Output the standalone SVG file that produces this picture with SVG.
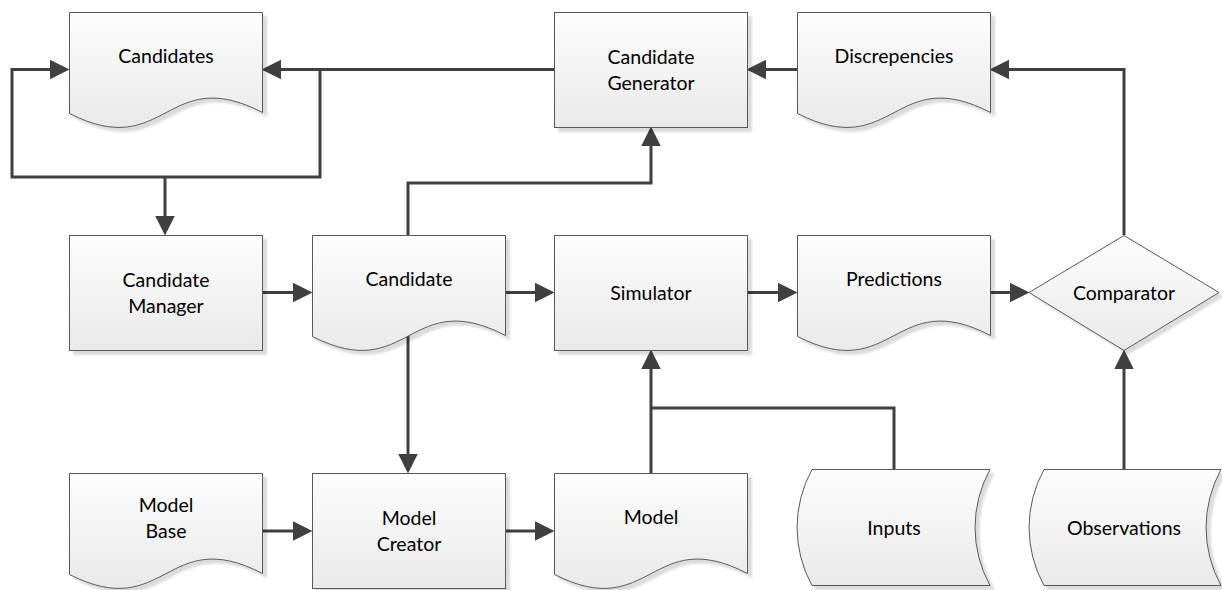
<svg xmlns="http://www.w3.org/2000/svg" width="1222" height="590" viewBox="0 0 1222 590">
  <defs>
    <linearGradient id="fillGrad" x1="0" y1="0" x2="0" y2="1">
      <stop offset="0" stop-color="#fdfdfd"/>
      <stop offset="1" stop-color="#e9e9e9"/>
    </linearGradient>
    <filter id="shadow" x="-10%" y="-10%" width="130%" height="130%">
      <feGaussianBlur in="SourceAlpha" stdDeviation="1"/>
      <feOffset dx="4" dy="4" result="off"/>
      <feFlood flood-color="#000" flood-opacity="0.14"/>
      <feComposite in2="off" operator="in"/>
      <feMerge>
        <feMergeNode/>
        <feMergeNode in="SourceGraphic"/>
      </feMerge>
    </filter>
    <marker id="arrow" markerUnits="userSpaceOnUse" markerWidth="20" markerHeight="20" viewBox="0 0 19 19" refX="9" refY="9.5" orient="auto">
      <path d="M0,0 L19,9.5 L0,19 Z" fill="#404040"/>
    </marker>
    <style>
      .shape { fill: url(#fillGrad); stroke: #595959; stroke-width: 1; filter: url(#shadow); }
      .label { font-family: "Lato", "Open Sans", sans-serif; font-size: 19.5px; fill: #000; text-anchor: middle; }
      .wire { fill: none; stroke: #404040; stroke-width: 3; stroke-linejoin: miter; }
      .wire.arrowed { marker-end: url(#arrow); }
    </style>
  </defs>

  <!-- connectors -->
  <g id="connectors">
    <path class="wire arrowed" d="M554,69.5 H272"/>
    <path class="wire arrowed" d="M320,69.5 V177 H12 V69.5 H59"/>
    <path class="wire arrowed" d="M165,177 V225"/>
    <path class="wire arrowed" d="M262,292.5 H302"/>
    <path class="wire arrowed" d="M408,235 V183 H651 V137"/>
    <path class="wire arrowed" d="M505,292.5 H544"/>
    <path class="wire arrowed" d="M747,292.5 H787"/>
    <path class="wire arrowed" d="M990,292.5 H1019"/>
    <path class="wire arrowed" d="M1124,235 V69.5 H1000"/>
    <path class="wire arrowed" d="M798,69.5 H757"/>
    <path class="wire arrowed" d="M408,336 V463"/>
    <path class="wire arrowed" d="M262,531 H302"/>
    <path class="wire arrowed" d="M505,531 H544"/>
    <path class="wire arrowed" d="M651,473 V360"/>
    <path class="wire" d="M894,469 V408 H651"/>
    <path class="wire arrowed" d="M1124,469 V360"/>
  </g>

  <!-- row 1 -->
  <g id="candidates">
    <path class="shape" d="M69.5,12.5 H262.5 V112.5 C166,62.5 166,162.5 69.5,113.5 Z"/>
    <text class="label" x="166" y="63">Candidates</text>
  </g>
  <g id="candidate-generator">
    <rect class="shape" x="554.5" y="12.5" width="193" height="115"/>
    <text class="label" x="651" y="64">Candidate</text>
    <text class="label" x="651" y="89.5">Generator</text>
  </g>
  <g id="discrepencies">
    <path class="shape" d="M797.5,12.5 H990.5 V112.5 C894,62.5 894,162.5 797.5,113.5 Z"/>
    <text class="label" x="894" y="63">Discrepencies</text>
  </g>

  <!-- row 2 -->
  <g id="candidate-manager">
    <rect class="shape" x="69.5" y="235.5" width="193" height="115"/>
    <text class="label" x="166" y="287">Candidate</text>
    <text class="label" x="166" y="312.5">Manager</text>
  </g>
  <g id="candidate">
    <path class="shape" d="M312.5,235.5 H505.5 V335.5 C409,285.5 409,385.5 312.5,336.5 Z"/>
    <text class="label" x="409" y="286">Candidate</text>
  </g>
  <g id="simulator">
    <rect class="shape" x="554.5" y="235.5" width="193" height="115"/>
    <text class="label" x="651" y="299.5">Simulator</text>
  </g>
  <g id="predictions">
    <path class="shape" d="M797.5,235.5 H990.5 V335.5 C894,285.5 894,385.5 797.5,336.5 Z"/>
    <text class="label" x="894" y="286">Predictions</text>
  </g>
  <g id="comparator">
    <polygon class="shape" points="1029,292.5 1124,235.5 1219,292.5 1124,350.5"/>
    <text class="label" x="1124" y="299.5">Comparator</text>
  </g>

  <!-- row 3 -->
  <g id="model-base">
    <path class="shape" d="M69.5,473.5 H262.5 V573.5 C166,523.5 166,623.5 69.5,574.5 Z"/>
    <text class="label" x="166" y="512">Model</text>
    <text class="label" x="166" y="537.5">Base</text>
  </g>
  <g id="model-creator">
    <rect class="shape" x="312.5" y="473.5" width="193" height="115"/>
    <text class="label" x="409" y="525">Model</text>
    <text class="label" x="409" y="550.5">Creator</text>
  </g>
  <g id="model">
    <path class="shape" d="M554.5,473.5 H747.5 V573.5 C651,523.5 651,623.5 554.5,574.5 Z"/>
    <text class="label" x="651" y="524">Model</text>
  </g>
  <g id="inputs">
    <path class="shape" d="M812,469.5 H990 A120,120 0 0 0 990,585.5 H812 A120,120 0 0 1 812,469.5 Z"/>
    <text class="label" x="894" y="535">Inputs</text>
  </g>
  <g id="observations">
    <path class="shape" d="M1044,469.5 H1221 A120,120 0 0 0 1221,585.5 H1044 A120,120 0 0 1 1044,469.5 Z"/>
    <text class="label" x="1124" y="535">Observations</text>
  </g>
</svg>
